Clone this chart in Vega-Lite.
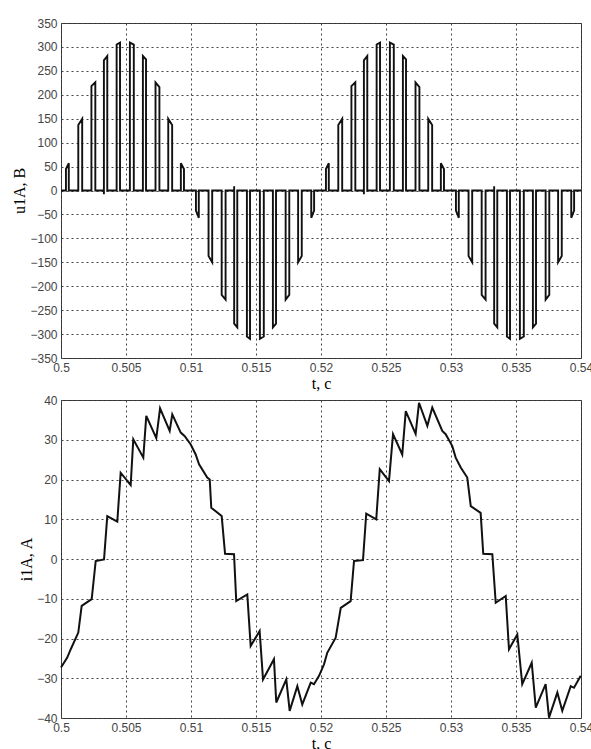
{
  "$schema": "https://vega.github.io/schema/vega-lite/v6.json",
  "padding": {"left": 11, "top": 16, "right": 0, "bottom": 0},
  "background": "white",
  "spacing": 42,
  "bounds": "flush",
  "config": {
    "view": {"stroke": "#333", "strokeWidth": 1},
    "axis": {
      "grid": true, "gridColor": "#444", "gridDash": [2, 3], "gridWidth": 1, "gridOpacity": 1,
      "domain": false, "ticks": false,
      "labelFont": "Liberation Sans", "labelFontSize": 12, "labelColor": "#444", "labelPadding": 4,
      "labelOverlap": false, "labelBound": false, "labelFlush": false,
      "titleFont": "Liberation Serif", "titleFontSize": 16, "titleFontWeight": "normal", "titleColor": "#000", "titlePadding": 2
    }
  },
  "datasets": {
    "u": [
      {"t":0.5,"u":0},
      {"t":0.50038,"u":0},{"t":0.50038,"u":45},{"t":0.5006,"u":57},{"t":0.5006,"u":0},
      {"t":0.50133,"u":0},{"t":0.50133,"u":137},{"t":0.50163,"u":150},{"t":0.50163,"u":0},
      {"t":0.50234,"u":0},{"t":0.50234,"u":218},{"t":0.50264,"u":226},{"t":0.50264,"u":0},
      {"t":0.5033,"u":0},{"t":0.5033,"u":-8},{"t":0.5033,"u":272},{"t":0.50356,"u":281},{"t":0.50356,"u":0},
      {"t":0.50428,"u":0},{"t":0.50428,"u":305},{"t":0.50454,"u":309},{"t":0.50454,"u":0},
      {"t":0.5053,"u":0},{"t":0.5053,"u":309},{"t":0.5056,"u":305},{"t":0.5056,"u":0},
      {"t":0.5063,"u":0},{"t":0.5063,"u":281},{"t":0.50654,"u":274},{"t":0.50654,"u":0},
      {"t":0.50727,"u":0},{"t":0.50727,"u":226},{"t":0.50757,"u":216},{"t":0.50757,"u":0},
      {"t":0.50825,"u":0},{"t":0.50825,"u":150},{"t":0.50855,"u":137},{"t":0.50855,"u":0},
      {"t":0.50922,"u":0},{"t":0.50922,"u":57},{"t":0.50946,"u":45},{"t":0.50946,"u":0},
      {"t":0.51038,"u":0},{"t":0.51038,"u":-42},{"t":0.5106,"u":-57},{"t":0.5106,"u":0},
      {"t":0.51135,"u":0},{"t":0.51135,"u":-137},{"t":0.51163,"u":-150},{"t":0.51163,"u":0},
      {"t":0.51236,"u":0},{"t":0.51236,"u":-218},{"t":0.51266,"u":-228},{"t":0.51266,"u":0},
      {"t":0.51332,"u":0},{"t":0.51332,"u":9},{"t":0.51332,"u":-278},{"t":0.51356,"u":-286},{"t":0.51356,"u":0},
      {"t":0.5143,"u":0},{"t":0.5143,"u":-305},{"t":0.51454,"u":-310},{"t":0.51454,"u":0},
      {"t":0.5153,"u":0},{"t":0.5153,"u":-310},{"t":0.5156,"u":-305},{"t":0.5156,"u":0},
      {"t":0.5163,"u":0},{"t":0.5163,"u":-286},{"t":0.51654,"u":-278},{"t":0.51654,"u":0},
      {"t":0.51728,"u":0},{"t":0.51728,"u":-228},{"t":0.51756,"u":-218},{"t":0.51756,"u":0},
      {"t":0.51824,"u":0},{"t":0.51824,"u":-150},{"t":0.51852,"u":-137},{"t":0.51852,"u":0},
      {"t":0.51925,"u":0},{"t":0.51925,"u":-57},{"t":0.51947,"u":-42},{"t":0.51947,"u":0},
      {"t":0.52038,"u":0},{"t":0.52038,"u":45},{"t":0.5206,"u":57},{"t":0.5206,"u":0},
      {"t":0.52133,"u":0},{"t":0.52133,"u":137},{"t":0.52163,"u":150},{"t":0.52163,"u":0},
      {"t":0.52234,"u":0},{"t":0.52234,"u":218},{"t":0.52264,"u":226},{"t":0.52264,"u":0},
      {"t":0.5233,"u":0},{"t":0.5233,"u":-8},{"t":0.5233,"u":272},{"t":0.52356,"u":281},{"t":0.52356,"u":0},
      {"t":0.52428,"u":0},{"t":0.52428,"u":305},{"t":0.52454,"u":309},{"t":0.52454,"u":0},
      {"t":0.5253,"u":0},{"t":0.5253,"u":309},{"t":0.5256,"u":305},{"t":0.5256,"u":0},
      {"t":0.5263,"u":0},{"t":0.5263,"u":281},{"t":0.52654,"u":274},{"t":0.52654,"u":0},
      {"t":0.52727,"u":0},{"t":0.52727,"u":226},{"t":0.52757,"u":216},{"t":0.52757,"u":0},
      {"t":0.52825,"u":0},{"t":0.52825,"u":150},{"t":0.52855,"u":137},{"t":0.52855,"u":0},
      {"t":0.52922,"u":0},{"t":0.52922,"u":57},{"t":0.52946,"u":45},{"t":0.52946,"u":0},
      {"t":0.53038,"u":0},{"t":0.53038,"u":-42},{"t":0.5306,"u":-57},{"t":0.5306,"u":0},
      {"t":0.53135,"u":0},{"t":0.53135,"u":-137},{"t":0.53163,"u":-150},{"t":0.53163,"u":0},
      {"t":0.53236,"u":0},{"t":0.53236,"u":-218},{"t":0.53266,"u":-228},{"t":0.53266,"u":0},
      {"t":0.53332,"u":0},{"t":0.53332,"u":9},{"t":0.53332,"u":-278},{"t":0.53356,"u":-286},{"t":0.53356,"u":0},
      {"t":0.5343,"u":0},{"t":0.5343,"u":-305},{"t":0.53454,"u":-310},{"t":0.53454,"u":0},
      {"t":0.5353,"u":0},{"t":0.5353,"u":-310},{"t":0.5356,"u":-305},{"t":0.5356,"u":0},
      {"t":0.5363,"u":0},{"t":0.5363,"u":-286},{"t":0.53654,"u":-278},{"t":0.53654,"u":0},
      {"t":0.53728,"u":0},{"t":0.53728,"u":-228},{"t":0.53756,"u":-218},{"t":0.53756,"u":0},
      {"t":0.53824,"u":0},{"t":0.53824,"u":-150},{"t":0.53852,"u":-137},{"t":0.53852,"u":0},
      {"t":0.53925,"u":0},{"t":0.53925,"u":-57},{"t":0.53947,"u":-42},{"t":0.53947,"u":0},
      {"t":0.54,"u":0}
    ],
    "i": [
      {"t":0.5,"i":-27.3},{"t":0.50048,"i":-24.8},{"t":0.50075,"i":-22.7},{"t":0.50133,"i":-18.5},{"t":0.50159,"i":-11.8},
      {"t":0.50236,"i":-10.1},{"t":0.50267,"i":-0.5},{"t":0.50331,"i":-0.1},{"t":0.50356,"i":10.8},{"t":0.50433,"i":9.4},
      {"t":0.50459,"i":21.7},{"t":0.50536,"i":18.6},{"t":0.50556,"i":30.1},{"t":0.50633,"i":25.5},{"t":0.50656,"i":36},
      {"t":0.50733,"i":30.4},{"t":0.50762,"i":37.9},{"t":0.50836,"i":32.2},{"t":0.50856,"i":36.4},{"t":0.50921,"i":31.8},
      {"t":0.50952,"i":30.9},{"t":0.50998,"i":28.8},{"t":0.51036,"i":26.3},{"t":0.51062,"i":23.8},{"t":0.51125,"i":20.5},
      {"t":0.51144,"i":20.0},{"t":0.51156,"i":12.9},{"t":0.51236,"i":10.8},{"t":0.51262,"i":1.3},{"t":0.51331,"i":1.2},
      {"t":0.51348,"i":-10.6},{"t":0.51433,"i":-8.9},{"t":0.51459,"i":-21.9},{"t":0.51528,"i":-18.1},{"t":0.51554,"i":-30.3},
      {"t":0.51638,"i":-25.2},{"t":0.51656,"i":-36.1},{"t":0.51733,"i":-30.3},{"t":0.51759,"i":-38.2},{"t":0.51818,"i":-32},
      {"t":0.51856,"i":-36.6},{"t":0.51921,"i":-31.1},{"t":0.51946,"i":-31.5},{"t":0.51985,"i":-29.4},{"t":0.52023,"i":-26.5},
      {"t":0.52048,"i":-23.6},{"t":0.52113,"i":-19.8},{"t":0.52152,"i":-12.3},{"t":0.52228,"i":-10.6},{"t":0.52254,"i":-0.5},
      {"t":0.52323,"i":-0.3},{"t":0.52348,"i":11.4},{"t":0.52425,"i":10},{"t":0.52452,"i":22.6},{"t":0.52523,"i":19.6},
      {"t":0.52554,"i":31.4},{"t":0.52625,"i":26.3},{"t":0.52652,"i":37.2},{"t":0.52728,"i":31.5},{"t":0.52754,"i":39.3},
      {"t":0.52818,"i":33.5},{"t":0.52856,"i":38.1},{"t":0.52933,"i":32.2},{"t":0.52959,"i":31.4},{"t":0.5301,"i":28.4},
      {"t":0.53036,"i":25.5},{"t":0.53075,"i":23},{"t":0.53125,"i":20.5},{"t":0.53152,"i":13.3},{"t":0.53228,"i":11.6},
      {"t":0.53248,"i":1.3},{"t":0.53318,"i":1.2},{"t":0.53344,"i":-11},{"t":0.53421,"i":-9.3},{"t":0.53446,"i":-22.7},
      {"t":0.5351,"i":-19},{"t":0.53548,"i":-31.5},{"t":0.53621,"i":-26.1},{"t":0.53652,"i":-37.4},{"t":0.53728,"i":-31.5},
      {"t":0.53754,"i":-39.9},{"t":0.53818,"i":-33.6},{"t":0.53856,"i":-38.2},{"t":0.53921,"i":-32},{"t":0.53946,"i":-32.4},
      {"t":0.53998,"i":-29.4}
    ]
  },
  "vconcat": [
    {
      "width": 520, "height": 335,
      "data": {"name": "u"},
      "mark": {"type": "line", "color": "#111", "strokeWidth": 1.9},
      "encoding": {
        "x": {"field": "t", "type": "quantitative",
              "scale": {"domain": [0.5, 0.54], "nice": false, "zero": false},
              "axis": {"values": [0.5, 0.505, 0.51, 0.515, 0.52, 0.525, 0.53, 0.535, 0.54], "format": "~g", "title": "t, с"}},
        "y": {"field": "u", "type": "quantitative",
              "scale": {"domain": [-350, 350], "nice": false},
              "axis": {"values": [-350, -300, -250, -200, -150, -100, -50, 0, 50, 100, 150, 200, 250, 300, 350], "title": "u1А, В"}},
        "order": {"value": null}
      }
    },
    {
      "width": 520, "height": 318,
      "data": {"name": "i"},
      "mark": {"type": "line", "color": "#111", "strokeWidth": 2},
      "encoding": {
        "x": {"field": "t", "type": "quantitative",
              "scale": {"domain": [0.5, 0.54], "nice": false, "zero": false},
              "axis": {"values": [0.5, 0.505, 0.51, 0.515, 0.52, 0.525, 0.53, 0.535, 0.54], "format": "~g", "title": "t, с"}},
        "y": {"field": "i", "type": "quantitative",
              "scale": {"domain": [-40, 40], "nice": false},
              "axis": {"values": [-40, -30, -20, -10, 0, 10, 20, 30, 40], "title": "i1А, А"}},
        "order": {"value": null}
      }
    }
  ]
}
